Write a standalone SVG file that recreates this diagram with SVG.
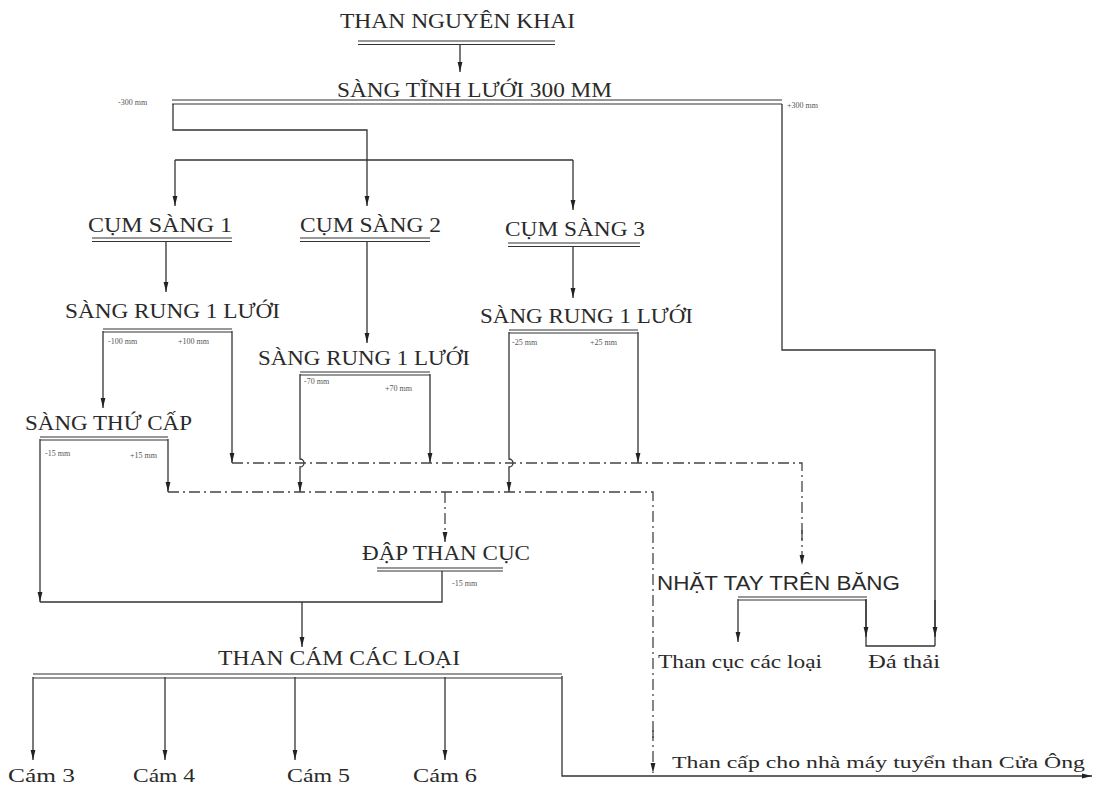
<svg xmlns="http://www.w3.org/2000/svg" width="1096" height="785" viewBox="0 0 1096 785">
<defs>
<marker id="ah" viewBox="0 0 10 6" refX="10" refY="3" markerWidth="10" markerHeight="6" markerUnits="userSpaceOnUse" orient="auto">
<path d="M0,0.6 L10,3 L0,5.4 Z" fill="#222"/>
</marker>
<style>
.t{font-family:"Liberation Serif","DejaVu Serif",serif;fill:#2a2a2a;font-size:20px}
.s{font-family:"Liberation Sans","DejaVu Sans",sans-serif;fill:#2a2a2a;font-size:20px}
.m{font-family:"Liberation Serif","DejaVu Serif",serif;fill:#555;font-size:8px}
.l{fill:none;stroke:#333;stroke-width:1.3}
.a{fill:none;stroke:#333;stroke-width:1.3;marker-end:url(#ah)}
.d{fill:none;stroke:#444;stroke-width:1.3;stroke-dasharray:11 4 2 4}
.da{fill:none;stroke:#444;stroke-width:1.3;stroke-dasharray:11 4 2 4;marker-end:url(#ah)}
.u{fill:none;stroke:#333;stroke-width:1.1}
</style>
</defs>
<rect width="1096" height="785" fill="#fff"/>

<g id="than-nguyen-khai">
<text class="t" x="340" y="28" textLength="235" lengthAdjust="spacingAndGlyphs">THAN NGUYÊN KHAI</text>
<path class="u" d="M358,41H555M358,44.5H555"/>
</g>
<g id="sang-tinh">
<text class="t" x="337" y="97" textLength="275" lengthAdjust="spacingAndGlyphs">SÀNG TĨNH LƯỚI 300 MM</text>
<path class="u" d="M172,100H782M172,104H782"/>
<text class="m" x="118" y="105">-300 mm</text>
<text class="m" x="787" y="108">+300 mm</text>
</g>
<g id="cum-sang-1">
<text class="t" x="88" y="232" textLength="144" lengthAdjust="spacingAndGlyphs">CỤM SÀNG 1</text>
<path class="u" d="M92,238H232M92,241.5H232"/>
</g>
<g id="cum-sang-2">
<text class="t" x="300" y="232" textLength="141" lengthAdjust="spacingAndGlyphs">CỤM SÀNG 2</text>
<path class="u" d="M300,238H430M300,241.5H430"/>
</g>
<g id="cum-sang-3">
<text class="t" x="505" y="236" textLength="140" lengthAdjust="spacingAndGlyphs">CỤM SÀNG 3</text>
<path class="u" d="M508,243H640M508,246.5H640"/>
</g>
<g id="sang-rung-1">
<text class="t" x="65" y="318" textLength="215" lengthAdjust="spacingAndGlyphs">SÀNG RUNG 1 LƯỚI</text>
<path class="u" d="M103,329H232M103,332H232"/>
<text class="m" x="108" y="344">-100 mm</text>
<text class="m" x="178" y="344">+100 mm</text>
</g>
<g id="sang-rung-2">
<text class="t" x="258" y="365" textLength="212" lengthAdjust="spacingAndGlyphs">SÀNG RUNG 1 LƯỚI</text>
<path class="u" d="M300,372H430M300,375H430"/>
<text class="m" x="304" y="384">-70 mm</text>
<text class="m" x="385" y="391">+70 mm</text>
</g>
<g id="sang-rung-3">
<text class="t" x="480" y="323" textLength="213" lengthAdjust="spacingAndGlyphs">SÀNG RUNG 1 LƯỚI</text>
<path class="u" d="M509,330H638M509,333H638"/>
<text class="m" x="512" y="345">-25 mm</text>
<text class="m" x="590" y="345">+25 mm</text>
</g>
<g id="sang-thu-cap">
<text class="t" x="25" y="430" textLength="167" lengthAdjust="spacingAndGlyphs">SÀNG THỨ CẤP</text>
<path class="u" d="M40,437H168M40,440H168"/>
<text class="m" x="45" y="456">-15 mm</text>
<text class="m" x="130" y="458">+15 mm</text>
</g>
<g id="dap-than-cuc">
<text class="t" x="362" y="560" textLength="168" lengthAdjust="spacingAndGlyphs">ĐẬP THAN CỤC</text>
<path class="u" d="M377,568H503M377,571H503"/>
<text class="m" x="452" y="586">-15 mm</text>
</g>
<g id="nhat-tay">
<text class="s" x="657" y="590" textLength="243" lengthAdjust="spacingAndGlyphs">NHẶT TAY TRÊN BĂNG</text>
<path class="u" d="M738,597H867M738,600H867"/>
</g>
<g id="than-cam">
<text class="t" x="218" y="665" textLength="242" lengthAdjust="spacingAndGlyphs">THAN CÁM CÁC LOẠI</text>
<path class="u" d="M33,674H562M33,678H562"/>
</g>
<g id="than-cuc-cac-loai"><text class="t" x="658" y="668" textLength="164" lengthAdjust="spacingAndGlyphs" style="font-size:18px">Than cục các loại</text></g>
<g id="da-thai"><text class="t" x="868" y="668" textLength="72" lengthAdjust="spacingAndGlyphs" style="font-size:18px">Đá thải</text></g>
<g id="cam-3"><text class="t" x="8" y="782" textLength="67" lengthAdjust="spacingAndGlyphs" style="font-size:18px">Cám 3</text></g>
<g id="cam-4"><text class="t" x="133" y="782" textLength="62" lengthAdjust="spacingAndGlyphs" style="font-size:18px">Cám 4</text></g>
<g id="cam-5"><text class="t" x="287" y="782" textLength="63" lengthAdjust="spacingAndGlyphs" style="font-size:18px">Cám 5</text></g>
<g id="cam-6"><text class="t" x="413" y="782" textLength="64" lengthAdjust="spacingAndGlyphs" style="font-size:18px">Cám 6</text></g>
<g id="than-cap"><text class="t" x="672" y="768" textLength="413" lengthAdjust="spacingAndGlyphs" style="font-size:17px">Than cấp cho nhà máy tuyển than Cửa Ông</text></g>

<g id="connectors">
<path class="a" d="M460,45V72"/>
<path class="l" d="M173,104V130H367V160"/>
<path class="l" d="M175,160H573"/>
<path class="a" d="M175,160V206"/>
<path class="a" d="M367,160V206"/>
<path class="a" d="M573,160V210"/>
<path class="l" d="M782,104V350H935V646"/>
<path class="a" d="M935,600V637"/>
<path class="a" d="M166,242V292"/>
<path class="a" d="M367,242V343"/>
<path class="a" d="M573,247V298"/>
<path class="a" d="M103,331V408"/>
<path class="a" d="M232,331V463"/>
<path class="a" d="M300,374V459A4,4 0 0 1 300,467V492"/>
<path class="a" d="M430,374V463"/>
<path class="a" d="M509,332V459A4,4 0 0 1 509,467V492"/>
<path class="a" d="M638,332V463"/>
<path class="a" d="M168,439V492"/>
<path class="d" d="M232,463H802V540"/>
<path class="da" d="M802,530V565"/>
<path class="d" d="M168,492H653V740"/>
<path class="da" d="M653,730V773"/>
<path class="da" d="M445,492V542"/>
<path class="a" d="M40,439V602"/>
<path class="l" d="M40,602H442V571"/>
<path class="a" d="M302,602V647"/>
<path class="a" d="M738,599V642"/>
<path class="l" d="M866,599V646H935"/>
<path class="a" d="M866,600V637"/>
<path class="a" d="M33,677V760"/>
<path class="a" d="M165,677V760"/>
<path class="a" d="M295,677V760"/>
<path class="a" d="M445,677V760"/>
<path class="a" d="M562,676V776H1092"/>
</g>
</svg>
